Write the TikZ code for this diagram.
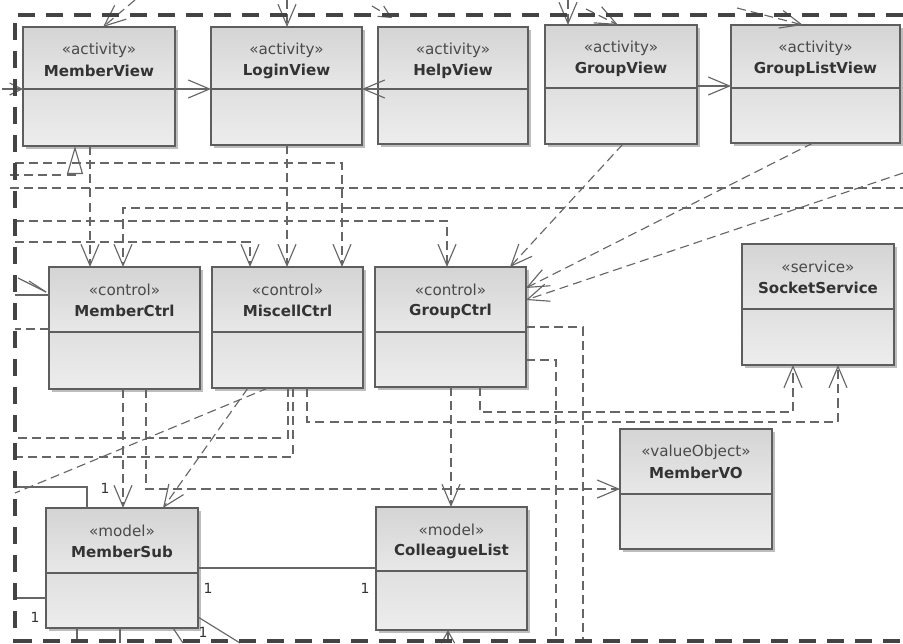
\documentclass[tikz,border=0pt]{standalone}
\usepackage{fontspec}
\setmainfont{DejaVu Sans}
\usetikzlibrary{arrows.meta,calc}

\definecolor{edgec}{HTML}{666666}
\definecolor{framec}{HTML}{444444}
\definecolor{boxc}{HTML}{5E5E5E}
\definecolor{txtc}{HTML}{333333}
\definecolor{stc}{HTML}{4A4A4A}
\definecolor{shadowc}{HTML}{BDBDBD}
\definecolor{topA}{HTML}{D4D4D4}
\definecolor{topB}{HTML}{E8E8E8}
\definecolor{botA}{HTML}{E0E0E0}
\definecolor{botB}{HTML}{EDEDED}

\tikzset{
  x=0.75pt, y=-0.75pt,
  clsbox/.style={draw=boxc, line width=0.9pt, inner sep=0pt, outer sep=0pt, rectangle},
  clsdiv/.style={draw=boxc, line width=0.8pt},
  stereo/.style={font=\fontsize{11.4}{12}\selectfont, text=stc, inner sep=0pt},
  ctitle/.style={font=\fontsize{11.3}{12}\selectfont\bfseries, text=txtc, inner sep=0pt},
  dep/.style={draw=edgec, line width=0.85pt, dash pattern=on 6.8pt off 3.8pt},
  assoc/.style={draw=edgec, line width=0.85pt},
  barb/.style={-{Straight Barb[length=16pt,width=13.5pt]}},
  realiz/.style={-{Triangle[length=21pt,width=12pt,fill=white]}},
  mult/.style={font=\fontsize{10.5}{12}\selectfont, text=txtc, inner sep=0pt},
  pkgframe/.style={draw=framec, line width=3.3pt, dash pattern=on 13pt off 8pt},
}

% class box: name, x1, y1, x2, y2, divider y, stereotype, title
\newcommand\umlclass[8]{%
  \fill[shadowc] (#2+3,#3+3) rectangle (#4+3,#5+3);
  \shade[top color=topA, bottom color=topB] (#2,#3) rectangle (#4,#6);
  \shade[top color=botA, bottom color=botB] (#2,#6) rectangle (#4,#5);
  \node[clsbox, minimum width={(#4-#2)*0.75pt}, minimum height={(#5-#3)*0.75pt}]
    (#1) at ({(#2+#4)/2},{(#3+#5)/2}) {};
  \draw[clsdiv] ($(#1.north west)+(0,#6-#3)$) -- ($(#1.north east)+(0,#6-#3)$);
  \node[stereo] (#1-st) at ($(#1.north)+(0,23)$) {«#7»};
  \node[ctitle] (#1-ti) at ($(#1.north)+(0,44)$) {#8};
}

\begin{document}
\begin{tikzpicture}
\useasboundingbox (0,0) rectangle (903,643);
\fill[white] (0,0) rectangle (903,643);

% activities
\umlclass{mv}{23}{27}{175}{146}{89}{activity}{MemberView}
\umlclass{lv}{211}{27}{362}{145}{89}{activity}{LoginView}
\umlclass{hv}{378}{27}{528}{144}{89}{activity}{HelpView}
\umlclass{gv}{545}{25}{697}{144}{88}{activity}{GroupView}
\umlclass{glv}{731}{25}{900}{143}{88}{activity}{GroupListView}
% controls and service
\umlclass{mc}{49}{267}{200}{389}{332}{control}{MemberCtrl}
\umlclass{mi}{212}{267}{363}{388}{332}{control}{MiscellCtrl}
\umlclass{gc}{375}{267}{526}{387}{332}{control}{GroupCtrl}
\umlclass{ss}{742}{244}{894}{365}{309}{service}{SocketService}
% models and value object
\umlclass{vo}{620}{429}{772}{549}{494}{valueObject}{MemberVO}
\umlclass{ms}{46}{508}{198}{628}{573}{model}{MemberSub}
\umlclass{cl}{376}{507}{527}{630}{571}{model}{ColleagueList}

% free ends of connectors that leave the package
\coordinate (t1) at (135,0);
\coordinate (t2) at (287,0);
\coordinate (t3) at (372,6);
\coordinate (t4) at (568,0);
\coordinate (t5) at (586,9);
\coordinate (t6) at (737,8);
\coordinate (e89) at (2,89);
\coordinate (l163) at (15,163);
\coordinate (l175) at (10,175);
\coordinate (l188) at (10,188);
\coordinate (r188) at (903,188);
\coordinate (r208) at (903,208);
\coordinate (l221) at (15,221);
\coordinate (l242) at (15,242);
\coordinate (r173) at (903,173);
\coordinate (l295) at (15,295);
\coordinate (l278a) at (18,278);
\coordinate (l278b) at (29,281);
\coordinate (l329) at (15,329);
\coordinate (l438) at (15,438);
\coordinate (l457) at (15,457);
\coordinate (k412) at (600,412);
\coordinate (k422) at (600,422);
\coordinate (b583) at (583,643);
\coordinate (b556) at (556,643);
\coordinate (l493) at (15,493);
\coordinate (l487) at (15,487);
\coordinate (l598) at (15,598);
\coordinate (b77) at (77,643);
\coordinate (b120) at (120,643);
\coordinate (b183) at (183,643);
\coordinate (b240) at (240,643);
\coordinate (b448) at (448,643);

% navigation between activities
\draw[assoc,barb] ($(mv.north east)+(0,62)$) -- ($(lv.north west)+(0,62)$);
\draw[assoc,barb] ($(hv.north west)+(0,62)$) -- ($(lv.north east)+(0,62)$);
\draw[assoc,barb] ($(gv.north east)+(0,61)$) -- ($(glv.north west)+(0,61)$);
\draw[assoc,-{Straight Barb[length=9pt,width=9pt]}] (e89) -- ($(mv.north west)+(0,62)$);

% incoming from above
\draw[dep,barb] (t1) -- ($(mv.north west)+(80,0)$);
\draw[dep,barb] (t2) -- ($(lv.north west)+(76,0)$);
\draw[dep,-{Straight Barb[length=9pt,width=9pt]}] (t3) -- ($(hv.north west)+(14,-9)$);
\draw[dep,barb] (t4) -- ($(gv.north west)+(23,0)$);
\draw[dep,barb] (t5) -- ($(gv.north west)+(73,0)$);
\draw[dep,barb] (t6) -- ($(glv.north west)+(72,0)$);

% activities to controls
\draw[dep,realiz] (l175) -| ($(mv.south west)+(52,0)$);
\draw[dep,barb] ($(mv.south west)+(67,0)$) -- ($(mc.north west)+(41,0)$);
\draw[dep,barb] ($(lv.south west)+(76,0)$) -- ($(mi.north west)+(75,0)$);
\draw[dep,barb] (l163) -| ($(mi.north west)+(130,0)$);
\draw[dep] (l188) -- (r188);
\draw[dep,barb] (r208) -| ($(mc.north west)+(74,0)$);
\draw[dep,barb] (l221) -| ($(gc.north west)+(72,0)$);
\draw[dep,barb] (l242) -| ($(mi.north west)+(38,0)$);
\draw[dep,barb] ($(gv.south west)+(78,0)$) -- ($(gc.north west)+(135,0)$);
\draw[dep,barb] ($(glv.south west)+(82,0)$) -- ($(gc.north east)+(0,21)$);
\draw[dep,barb] (r173) -- ($(gc.north east)+(0,33)$);

% left side of MemberCtrl
\draw[assoc] (l295) -- ($(mc.north west)+(0,28)$);
\draw[assoc] (l278a) -- ($(mc.north west)+(-3,25)$);
\draw[assoc] (l278b) -- ($(mc.north west)+(-3,25)$);
\draw[dep] ($(mc.north west)+(0,62)$) -- (l329);

% controls to models, value object and service
\draw[dep,barb] ($(mc.south west)+(74,0)$) -- ($(ms.north west)+(77,0)$);
\draw[dep,barb] ($(mc.south west)+(97,0)$) |- ($(vo.north west)+(0,60)$);
\draw[dep] ($(mi.south west)+(76,0)$) |- (l438);
\draw[dep] ($(mi.south west)+(81,0)$) |- (l457);
\draw[dep,barb] ($(mi.south west)+(95,0)$) |- (k422) -| ($(ss.south west)+(96,0)$);
\draw[dep,barb] ($(gc.south west)+(105,0)$) |- (k412) -| ($(ss.south west)+(51,0)$);
\draw[dep] ($(gc.north east)+(0,60)$) -| (b583);
\draw[dep] ($(gc.north east)+(0,93)$) -| (b556);
\draw[dep,barb] ($(gc.south west)+(76,0)$) -- ($(cl.north west)+(75,0)$);
\draw[dep,barb] ($(mi.south west)+(36,0)$) -- ($(ms.north west)+(117,0)$);
\draw[dep] ($(mi.south west)+(56,0)$) -- (l493);

% associations of MemberSub and ColleagueList
\draw[assoc] (l487) -| ($(ms.north west)+(41,0)$);
\draw[assoc] (l598) -- ($(ms.north west)+(0,90)$);
\draw[assoc] ($(ms.south west)+(31,0)$) -- (b77);
\draw[assoc] ($(ms.south west)+(74,0)$) -- (b120);
\draw[assoc] ($(ms.south west)+(127,0)$) -- (b183);
\draw[assoc] ($(ms.north east)+(0,109)$) -- (b240);
\draw[assoc] ($(ms.north east)+(0,60)$) -- ($(cl.north west)+(0,61)$);
\draw[assoc,-{Straight Barb[length=9pt,width=10pt]}] (b448) -- ($(cl.south west)+(72,0)$);

% multiplicities
\node[mult] (m1) at (105,488) {1};
\node[mult] (m2) at (35,617) {1};
\node[mult] (m3) at (208,588) {1};
\node[mult] (m4) at (365,588) {1};
\node[mult] (m5) at (203,632) {1};

% package frame
\draw[pkgframe] (903,15) -- (15,15) -- (15,643);
\draw[pkgframe] (15,641) -- (903,641);
\end{tikzpicture}
\end{document}
